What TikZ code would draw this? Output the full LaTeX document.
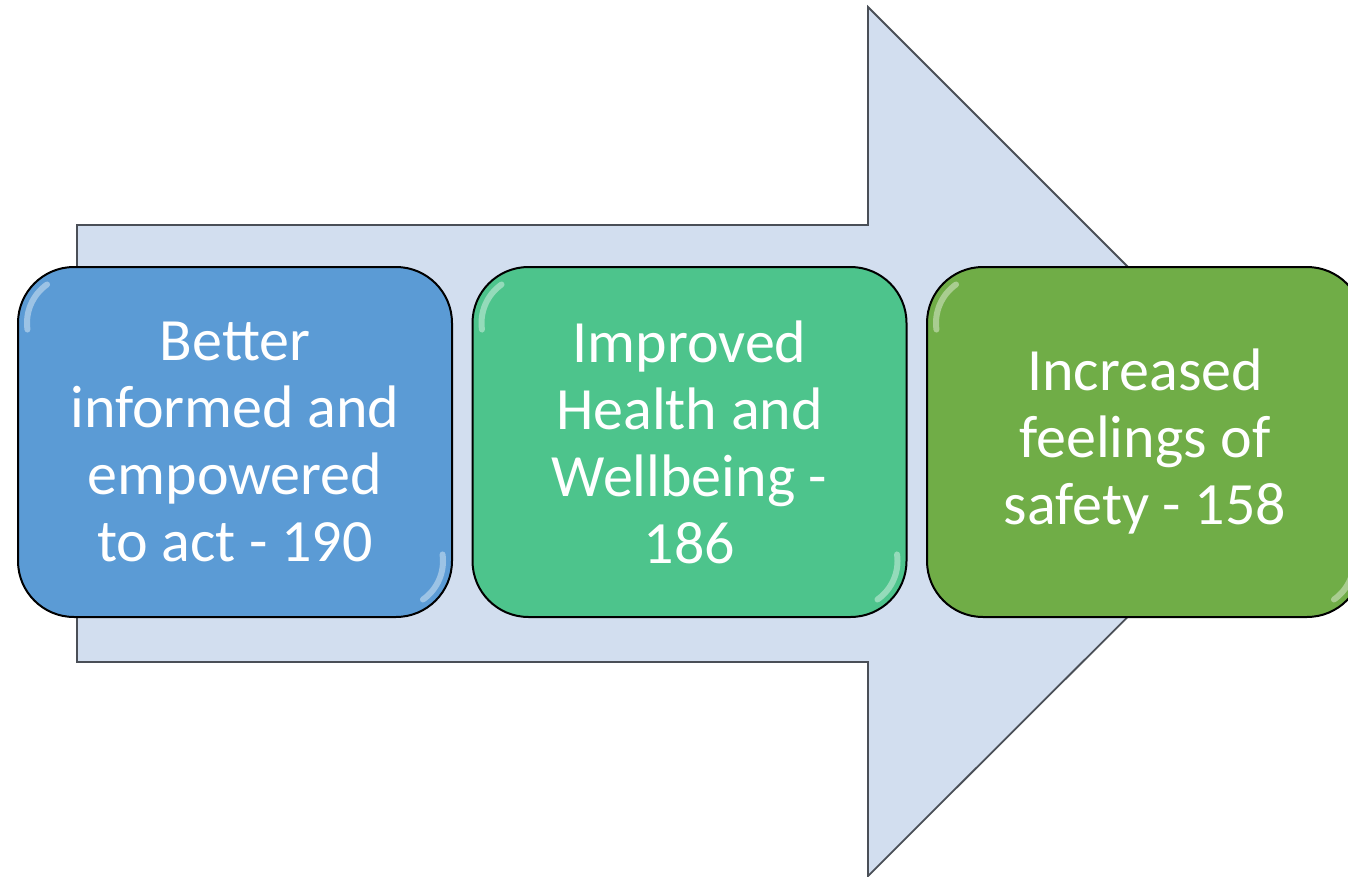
\documentclass[tikz,border=0pt]{standalone}
\usepackage{fontspec}
\setmainfont{Carlito}
\definecolor{arrowfill}{HTML}{D2DEEF}
\definecolor{arrowline}{HTML}{4A4F57}
\definecolor{cblue}{HTML}{5B9BD5}
\definecolor{cteal}{HTML}{4DC48C}
\definecolor{cgreen}{HTML}{70AD47}
\newcommand\stageboxfont{\fontsize{30}{33.5}\selectfont}
\tikzset{
  stagebox/.style={draw=black, line width=1pt, rounded corners=28pt,
    minimum width=217pt, minimum height=175pt, inner sep=0pt,
    text=white, align=flush center, font=\stageboxfont},
  gloss/.style={white, line width=3pt, opacity=0.4, line cap=round},
}
\begin{document}
\begin{tikzpicture}[x=0.5pt,y=-0.5pt]
\useasboundingbox (0,0) rectangle (1348,877);
\begin{scope}
\clip (0,0) rectangle (1348,877);
% big arrow
\draw[fill=arrowfill, draw=arrowline, line width=0.9pt, line join=miter]
  (77,225) -- (868,225) -- (868,7) -- (1303,442) -- (868,876) -- (868,662) -- (77,662) -- cycle;
% boxes
\node[stagebox, fill=cblue, text width=210pt] (b1) at (235,442)
  {Better\\informed and\\empowered\\to act - 190};
\node[stagebox, fill=cteal, text width=210pt] (b2) at (689.5,442)
  {Improved\\Health and\\Wellbeing -\\186};
\node[stagebox, fill=cgreen, minimum width=218pt, text width=210pt] (b3) at (1145,442)
  {Increased\\feelings of\\safety - 158};
% glossy highlights
\foreach \b in {b1,b2,b3}{
  \draw[gloss] ([shift={(57,57)}]\b.north west) ++(172:47) arc[start angle=172, end angle=235, radius=47];
  \draw[gloss] ([shift={(-57,-57)}]\b.south east) ++(352:47) arc[start angle=352, end angle=415, radius=47];
}
\end{scope}
\end{tikzpicture}
\end{document}
